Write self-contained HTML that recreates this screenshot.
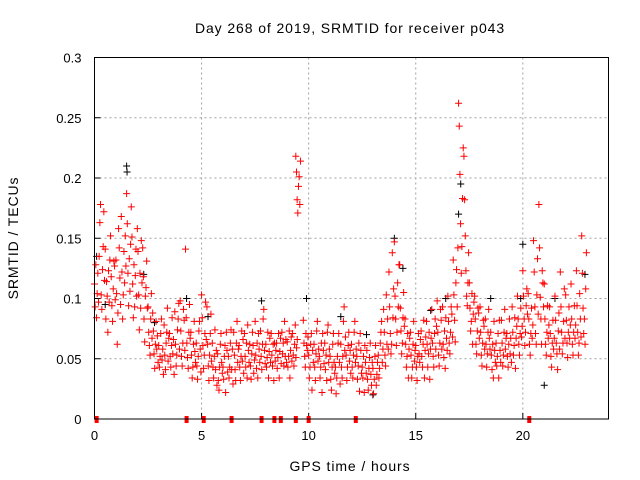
<!DOCTYPE html>
<html><head><meta charset="utf-8"><style>
body{margin:0;background:#fff}
svg{display:block;font-family:"Liberation Sans",sans-serif}
.big{font-size:14px;letter-spacing:0.9px}
</style></head><body>
<svg id="chart" width="640" height="480">
<text class="big" x="350" y="33" text-anchor="middle">Day 268 of 2019, SRMTID for receiver p043</text>
<text class="big" x="350" y="471" text-anchor="middle">GPS time / hours</text>
<text class="big" transform="translate(18,238) rotate(-90)" text-anchor="middle">SRMTID / TECUs</text>
<g id="grid"></g>
<g id="ticks"></g>
<g id="black"></g>
<g id="red"></g>
<g id="gaps"></g>
<rect x="94.5" y="57.5" width="514" height="361.5" fill="none" stroke="#000"/>
</svg>
<script>
const xTicks=[0,5,10,15,20];
const yTicks=[0,0.05,0.1,0.15,0.2,0.25,0.3];
const yTickLabels=["0","0.05","0.1","0.15","0.2","0.25","0.3"];
const binHours=[0,0.25,0.5,0.75,1,1.25,1.5,1.75,2,2.25,2.5,2.75,3,3.25,3.5,3.75,4,4.25,4.5,4.75,5,5.25,5.5,5.75,6,6.25,6.5,6.75,7,7.25,7.5,7.75,8,8.25,8.5,8.75,9,9.25,9.4,9.75,10,10.25,10.5,10.75,11,11.25,11.5,11.75,12,12.25,12.5,12.75,13,13.25,13.5,13.75,14,14.25,14.5,14.75,15,15.25,15.5,15.75,16,16.25,16.5,16.75,17,17.25,17.5,17.75,18,18.25,18.5,18.75,19,19.25,19.5,19.75,20,20.25,20.5,20.75,21,21.25,21.5,21.75,22,22.25,22.5,22.75];
const redVals=[
[.112,.093,.128,.084,.104,.121,.097,.135],[.163,.178,.103,.091,.124,.143,.172,.115],[.141,.083,.114,.102,.072,.123,.097,.132],[.152,.118,.094,.081,.108,.131,.127,.099],
[.132,.104,.062,.088,.158,.142,.117,.095],[.168,.122,.083,.103,.139,.113,.152,.127],[.187,.162,.121,.094,.133,.106,.145,.176],[.151,.112,.084,.128,.093,.119,.141,.102],
[.158,.139,.103,.074,.121,.092,.148,.113],[.142,.118,.083,.064,.102,.109,.131,.092],[.093,.072,.061,.053,.083,.104,.067,.088],[.073,.054,.042,.062,.081,.058,.069,.047],
[.061,.043,.052,.071,.083,.049,.058,.037],[.078,.053,.041,.063,.072,.092,.048,.067],[.071,.052,.043,.061,.084,.054,.066,.037],[.089,.062,.044,.053,.074,.083,.096,.058],
[.098,.073,.052,.044,.063,.091,.082,.057],[.141,.084,.063,.051,.042,.072,.095,.067],[.072,.053,.034,.043,.062,.081,.056,.047],[.063,.044,.033,.052,.073,.081,.058,.039],
[.103,.084,.061,.042,.053,.071,.097,.066],[.093,.062,.044,.032,.053,.071,.087,.048],[.063,.043,.034,.052,.074,.041,.057,.028],[.054,.032,.024,.043,.062,.071,.047,.038],
[.043,.033,.052,.061,.022,.072,.057,.039],[.052,.034,.043,.063,.074,.041,.058,.029],[.072,.053,.041,.032,.063,.081,.047,.058],[.061,.043,.032,.052,.073,.048,.066,.038],
[.071,.052,.043,.063,.034,.078,.057,.047],[.062,.044,.033,.054,.072,.061,.038,.049],[.081,.053,.042,.063,.034,.071,.058,.047],[.073,.052,.041,.062,.083,.091,.057,.046],
[.062,.043,.051,.072,.034,.056,.067,.047],[.071,.053,.044,.062,.032,.063,.048,.057],[.063,.042,.051,.071,.034,.056,.067,.046],[.072,.054,.063,.044,.081,.052,.066,.047],
[.064,.043,.052,.073,.034,.057,.068,.048],[.071,.053,.044,.062,.078,.051,.059,.066],[.218,.205,.182,.171,.193,.201,.178,.214],[.082,.063,.052,.043,.071,.061,.057,.068],
[.053,.034,.043,.062,.071,.024,.057,.047],[.062,.043,.032,.054,.073,.081,.048,.058],[.052,.034,.043,.063,.022,.071,.057,.046],[.063,.041,.053,.032,.072,.078,.047,.058],
[.052,.033,.024,.043,.062,.071,.047,.038],[.043,.021,.034,.052,.063,.071,.047,.029],[.062,.043,.034,.052,.081,.093,.057,.068],[.053,.032,.043,.061,.072,.048,.057,.038],
[.062,.043,.034,.053,.072,.081,.047,.058],[.052,.033,.044,.063,.023,.071,.057,.038],[.043,.034,.052,.022,.061,.047,.038,.057],[.033,.024,.042,.051,.063,.037,.028,.047],
[.042,.021,.033,.052,.061,.028,.037,.047],[.053,.034,.042,.063,.072,.081,.047,.058],[.091,.072,.053,.044,.103,.062,.083,.058],[.122,.093,.071,.054,.062,.138,.084,.108],
[.147,.102,.083,.061,.072,.113,.093,.128],[.128,.092,.073,.054,.063,.084,.105,.077],[.083,.062,.043,.052,.071,.034,.058,.067],[.072,.053,.034,.043,.062,.081,.048,.057],
[.061,.043,.032,.052,.071,.054,.047,.066],[.073,.052,.043,.062,.082,.034,.057,.068],[.081,.062,.043,.054,.072,.033,.058,.067],[.091,.063,.052,.043,.071,.083,.058,.077],
[.098,.072,.053,.044,.063,.091,.082,.058],[.093,.062,.051,.073,.042,.084,.067,.057],[.102,.081,.063,.054,.072,.093,.087,.068],[.132,.103,.082,.064,.113,.124,.093,.142],
[.262,.243,.203,.162,.121,.143,.183,.225],[.218,.182,.152,.123,.102,.094,.113,.138],[.113,.092,.073,.081,.104,.062,.087,.097],[.102,.083,.062,.054,.073,.092,.088,.067],
[.093,.072,.053,.044,.063,.082,.077,.058],[.083,.062,.043,.054,.072,.091,.067,.058],[.072,.053,.041,.062,.034,.081,.057,.047],[.063,.044,.052,.071,.034,.082,.057,.047],
[.082,.063,.044,.053,.072,.091,.058,.067],[.071,.052,.043,.062,.083,.054,.067,.047],[.093,.072,.053,.061,.084,.042,.067,.077],[.102,.083,.062,.053,.071,.092,.068,.077],
[.123,.102,.083,.061,.072,.094,.108,.087],[.104,.083,.062,.053,.071,.092,.067,.078],[.148,.122,.093,.071,.062,.103,.133,.087],[.178,.142,.101,.083,.062,.123,.113,.093],
[.112,.083,.062,.053,.072,.094,.067,.078],[.093,.071,.052,.043,.063,.082,.058,.067],[.102,.082,.063,.054,.041,.073,.088,.058],[.122,.093,.072,.054,.063,.081,.108,.067],
[.103,.082,.063,.051,.072,.093,.067,.078],[.112,.083,.062,.053,.072,.094,.067,.078],[.123,.094,.072,.053,.063,.104,.083,.068],[.152,.121,.092,.071,.083,.062,.108,.138]];
const blackTimes=[1.5,1.52,0.1,9.9,7.8,17.1,17.0,14.0,14.4,19.9,20.0,21.0,22.9,4.3,2.3,18.5,16.4,12.7,13.0,5.3,11.5,15.7,21.5,0.5,2.8];
const blackVals=[.21,.205,.135,.10,.098,.195,.17,.15,.125,.10,.145,.028,.12,.10,.12,.10,.10,.07,.02,.085,.085,.09,.10,.095,.08];
const gapHours=[0.1,4.3,5.1,6.4,7.8,8.4,8.7,9.4,10.0,12.2,20.3];
const X0=94.5,X1=608.5,Y0=419,Y1=57.5,XMAX=24,YMAX=0.3;
function sx(h){return X0+(X1-X0)*h/XMAX}
function sy(v){return Y0-(Y0-Y1)*v/YMAX}
const NS="http://www.w3.org/2000/svg";
function mk(tag,attrs,parent){const e=document.createElementNS(NS,tag);for(const k in attrs)e.setAttribute(k,attrs[k]);parent.appendChild(e);return e}
const grid=document.getElementById('grid'),ticks=document.getElementById('ticks');
xTicks.forEach((t,i)=>{
 const x=sx(t);
 if(i>0){const g=mk('line',{x1:x,x2:x,y1:Y1,y2:Y0,stroke:'#a0a0a0','stroke-dasharray':'2,3'},grid);
 
 }
 mk('line',{x1:x,x2:x,y1:Y0,y2:Y0-6,stroke:'#000'},ticks);
 const l=mk('text',{x:x,y:Y0+21,'text-anchor':'middle','font-size':'13'},ticks);l.textContent=t;
 
 
});
yTicks.forEach((t,i)=>{
 const y=sy(t);
 if(i>0&&i<yTicks.length-1){const g=mk('line',{x1:X0,x2:X1,y1:y,y2:y,stroke:'#a0a0a0','stroke-dasharray':'2,3'},grid);
 
 }
 mk('line',{x1:X0,x2:X0+6,y1:y,y2:y,stroke:'#000'},ticks);
 const l=mk('text',{x:X0-13,y:y+5,'text-anchor':'end','font-size':'13'},ticks);l.textContent=yTickLabels[i];
 
 
});
function plus(x,y,color,parent,name){
 const p=mk('path',{d:`M${x-3.5},${y}h7M${x},${y-3.5}v7`,stroke:color,'stroke-width':1,fill:'none'},parent);
 
 
}
const bg=document.getElementById('black');
blackTimes.forEach((t,i)=>plus(sx(t),sy(blackVals[i]),'#000',bg,'black-point'));
const rg=document.getElementById('red');
binHours.forEach((h,i)=>{redVals[i].forEach((v,j)=>{plus(sx(h+j*0.031),sy(v),'#ff0000',rg,'red-point')})});
const gg=document.getElementById('gaps');
gapHours.forEach(h=>{const r=mk('rect',{x:sx(h)-2,y:Y0-3,width:4,height:7,fill:'#ff0000'},gg);
 
 });
</script>
</body></html>
